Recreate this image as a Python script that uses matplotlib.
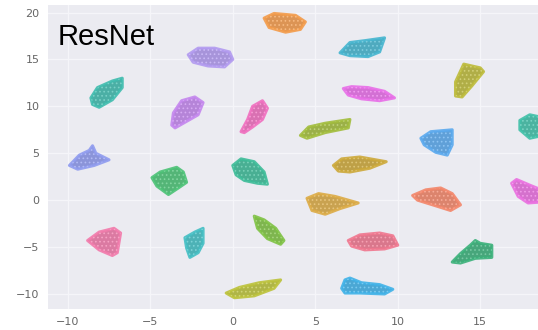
import matplotlib
matplotlib.use("Agg")
import matplotlib.pyplot as plt
from matplotlib.patches import Polygon
from matplotlib.colors import to_rgb

# t-SNE clusters of the ResNet features, traced as outlines (data units)
orange = [(1.9, 19.4), (2.5, 19.9), (3.8, 19.7), (4.4, 19.0), (4.1, 18.2), (3.2, 17.9), (2.2, 18.4)]
lavender = [(-2.7, 15.5), (-2.1, 16.2), (-1.1, 16.2), (-0.2, 15.8), (0.0, 15.0), (-0.5, 14.2), (-1.5, 14.3), (-2.4, 14.7)]
teal = [(-8.6, 10.9), (-8.2, 12.0), (-7.3, 12.7), (-6.7, 13.0), (-6.7, 12.0), (-7.3, 10.7), (-8.1, 9.9), (-8.5, 10.2)]
violet = [(-3.7, 8.0), (-3.6, 9.3), (-3.1, 10.6), (-2.3, 11.0), (-1.8, 10.4), (-2.1, 9.1), (-2.9, 8.3), (-3.5, 7.7)]
pink = [(0.5, 7.3), (0.9, 8.6), (1.2, 10.0), (1.8, 10.6), (2.1, 9.8), (1.8, 8.6), (1.2, 7.8), (0.7, 7.2)]
cyan = [(6.5, 15.7), (7.1, 16.8), (8.0, 17.0), (9.2, 17.3), (8.9, 15.8), (8.2, 15.3), (7.1, 15.4)]
magenta = [(6.7, 11.9), (7.2, 12.1), (8.2, 12.0), (9.2, 11.6), (9.8, 10.9), (8.9, 10.6), (7.8, 10.8), (7.0, 11.2)]
olive = [(14.0, 14.5), (15.0, 14.1), (15.2, 13.7), (14.5, 12.2), (13.9, 11.0), (13.5, 11.1), (13.5, 12.6)]
yellow_green = [(4.1, 6.9), (4.6, 7.8), (5.6, 8.2), (7.1, 8.6), (7.0, 7.7), (5.6, 7.2), (4.5, 6.6)]
blue = [(11.4, 6.6), (12.0, 7.3), (13.3, 7.5), (13.3, 5.9), (13.0, 4.8), (12.3, 5.1), (11.6, 5.9)]
teal_right = [(17.4, 8.5), (18.0, 9.1), (18.8, 8.8), (18.8, 6.9), (18.0, 6.6), (17.4, 7.5)]
periwinkle = [(-9.9, 3.7), (-9.3, 4.8), (-8.7, 5.3), (-8.5, 5.8), (-8.3, 5.0), (-7.5, 4.3), (-8.4, 3.7), (-9.4, 3.3)]
green = [(-4.9, 2.4), (-4.4, 3.0), (-3.4, 3.5), (-3.0, 3.0), (-2.8, 1.9), (-3.3, 1.3), (-3.9, 0.6), (-4.6, 1.5)]
sea_green = [(0.0, 3.7), (0.5, 4.4), (1.3, 4.1), (1.9, 3.0), (2.1, 1.7), (1.5, 1.8), (0.7, 2.1), (0.2, 2.7)]
gold = [(6.1, 3.7), (6.6, 4.4), (7.7, 4.6), (9.3, 4.1), (8.3, 3.4), (7.1, 3.0), (6.4, 3.1)]
ochre = [(4.5, 0.2), (5.2, 0.7), (6.2, 0.4), (7.6, -0.3), (6.5, -0.9), (5.6, -1.5), (4.8, -1.1)]
salmon = [(10.9, 0.5), (11.7, 1.1), (12.6, 1.3), (13.3, 0.7), (13.8, -0.5), (13.2, -1.1), (12.3, -0.6), (11.2, 0.0)]
magenta_right = [(16.9, 1.8), (17.2, 2.2), (18.0, 1.6), (18.7, 1.1), (18.7, -0.2), (17.9, -0.3), (17.3, 0.4)]
pink_left = [(-8.8, -4.3), (-8.1, -3.4), (-7.2, -3.0), (-6.8, -3.5), (-7.0, -5.6), (-7.3, -5.9), (-8.1, -5.3)]
teal_small = [(-2.9, -4.0), (-2.3, -3.4), (-1.8, -3.0), (-1.8, -4.6), (-2.1, -5.6), (-2.6, -6.1), (-2.8, -5.1)]
lime = [(1.3, -1.7), (1.9, -2.1), (2.6, -3.0), (3.1, -4.3), (2.9, -4.7), (2.1, -4.1), (1.5, -3.0)]
rose = [(7.0, -4.3), (7.7, -3.7), (8.9, -3.5), (9.7, -3.8), (10.0, -4.8), (9.2, -5.2), (8.0, -5.3), (7.2, -4.9)]
green_right = [(13.3, -6.6), (13.8, -5.7), (14.4, -4.8), (14.7, -4.3), (15.0, -4.6), (15.7, -4.8), (15.7, -6.1), (14.7, -6.2), (13.8, -6.7)]
olive_bottom = [(-0.4, -9.9), (0.4, -9.3), (1.6, -8.8), (2.9, -8.5), (2.5, -9.4), (1.3, -10.2), (0.1, -10.4)]
sky = [(6.6, -9.4), (6.8, -8.5), (7.1, -8.3), (7.8, -8.8), (8.9, -9.0), (9.7, -9.5), (9.2, -10.0), (7.7, -9.9), (6.8, -9.9)]

clusters = [orange, lavender, teal, violet, pink, cyan, magenta, olive, yellow_green,
            blue, teal_right, periwinkle, green, sea_green, gold, ochre, salmon,
            magenta_right, pink_left, teal_small, lime, rose, green_right,
            olive_bottom, sky]
colors = ['#f39b4a', '#b29af0', '#3fbcae', '#c486ee', '#f06fbf', '#45b5cf', '#e86ee8',
          '#bdbb3a', '#a2bd3c', '#5aa9ee', '#40c0a8', '#8f9bef', '#4cc276', '#3dbc98',
          '#cda93a', '#dcab45', '#f3866a', '#ea6fe0', '#f27aab', '#43bfc4', '#7fc244',
          '#f0778f', '#3bb17a', '#bcc23a', '#3fb2e8']

xticks = [-10, -5, 0, 5, 10, 15]
yticks = [-10, -5, 0, 5, 10, 15, 20]


def shade(c, f):
    # f < 1 darkens, f > 1 lightens toward white
    r, g, b = to_rgb(c)
    if f <= 1:
        return (r * f, g * f, b * f)
    t = f - 1
    return (r + (1 - r) * t, g + (1 - g) * t, b + (1 - b) * t)


plt.rcParams['hatch.linewidth'] = 0.7

fig = plt.figure(figsize=(5.38, 3.30), dpi=100)
ax = fig.add_axes([48 / 538, 21 / 330, 490 / 538, 304 / 330])
ax.set_facecolor('#ebebf1')
ax.grid(True, color='#f5f5f9', linewidth=1.0)
ax.set_axisbelow(True)
for s in ax.spines.values():
    s.set_visible(False)

for pts, c in zip(clusters, colors):
    # soft rounded body
    ax.add_patch(Polygon(pts, closed=True, facecolor=shade(c, 0.9), edgecolor=c,
                         linewidth=2.2, joinstyle='round', alpha=0.9))
    # speckled texture for the point cloud look
    ax.add_patch(Polygon(pts, closed=True, facecolor='none', edgecolor=shade(c, 1.3),
                         linewidth=0, hatch='....'))

ax.set_xlim(-11.2, 18.5)
ax.set_ylim(-11.6, 20.8)
ax.set_xticks(xticks)
ax.set_yticks(yticks)
ax.tick_params(length=0, labelsize=8, labelcolor='#666666', pad=6)

ax.text(-10.6, 17.4, 'ResNet', fontsize=21, family='Liberation Sans',
        color='black', va='center', ha='left')

fig.savefig('out.png', dpi=100)
